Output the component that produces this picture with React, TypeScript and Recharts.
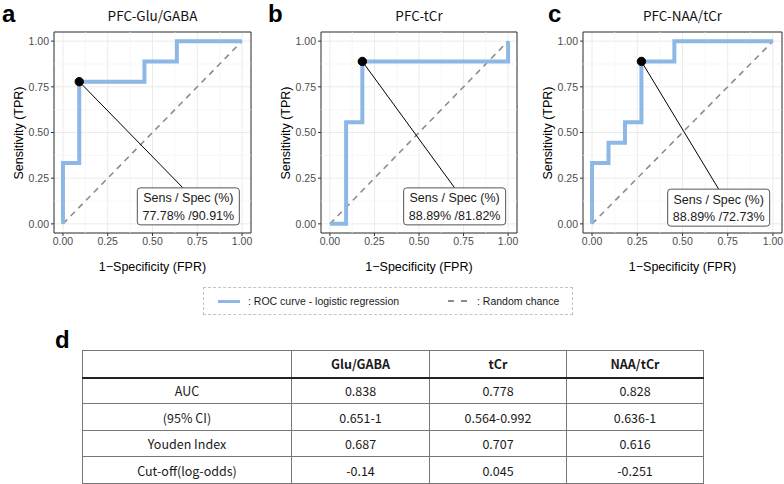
import React from "react";
import {
  LineChart,
  Line,
  XAxis,
  YAxis,
  CartesianGrid,
  ReferenceLine,
  ReferenceDot,
  ReferenceArea,
} from "recharts";

// ---------- data ----------
const gluFpr = [0, 0, 0.091, 0.091, 0.455, 0.455, 0.636, 0.636, 1];
const gluTpr = [0, 0.333, 0.333, 0.778, 0.778, 0.889, 0.889, 1, 1];
const tcrFpr = [0, 0.091, 0.091, 0.182, 0.182, 1, 1];
const tcrTpr = [0, 0, 0.556, 0.556, 0.889, 0.889, 1];
const naaFpr = [0, 0, 0.091, 0.091, 0.182, 0.182, 0.273, 0.273, 0.455, 0.455, 1];
const naaTpr = [0, 0.333, 0.333, 0.444, 0.444, 0.556, 0.556, 0.889, 0.889, 1, 1];

const panelTitles = ["PFC-Glu/GABA", "PFC-tCr", "PFC-NAA/tCr"];
const panelLetters = ["a", "b", "c"];
const optimalFpr = [0.091, 0.182, 0.273];
const optimalTpr = [0.778, 0.889, 0.889];
const sensSpecText = ["77.78% /90.91%", "88.89% /81.82%", "88.89% /72.73%"];
const labelCenterX = [0.7, 0.7, 0.7];
const labelTopY = [0.197, 0.197, 0.19];
const segmentEndX = [0.67, 0.7, 0.7];

const diagFpr = [0, 1];
const diagTpr = [0, 1];
const majorTicks = [0, 0.25, 0.5, 0.75, 1];
const minorTicks = [0.125, 0.375, 0.625, 0.875];

const tableColumns = ["", "Glu/GABA", "tCr", "NAA/tCr"];
const tableRowLabels = ["AUC", "(95% CI)", "Youden Index", "Cut-off(log-odds)"];
const gluStats = ["0.838", "0.651-1", "0.687", "-0.14"];
const tcrStats = ["0.778", "0.564-0.992", "0.707", "0.045"];
const naaStats = ["0.828", "0.636-1", "0.616", "-0.251"];

const legendItems = [": ROC curve - logistic regression", ": Random chance"];

// ---------- helpers ----------
const toPoints = (xs: number[], ys: number[]) => xs.map((x, i) => ({ x, y: ys[i] }));
const rocSets = [toPoints(gluFpr, gluTpr), toPoints(tcrFpr, tcrTpr), toPoints(naaFpr, naaTpr)];
const diagData = toPoints(diagFpr, diagTpr);

const SANS = "'Liberation Sans', Arial, Helvetica, sans-serif";
const KR = "'Noto Sans CJK KR', 'Noto Sans', sans-serif";

const PLOT_TOP = 32;
const PLOT_BOTTOM = 233;
const Y_AXIS_W = 54;
const CHART_H = 280;
const X_AXIS_H = 30;

const panelPlots = [
  { left: 54, right: 251 },
  { left: 321, right: 517 },
  { left: 583, right: 782 },
];

const makeLabelShape = (text: string) => (props: any) => {
  const { cx, cy } = props;
  const w = 102;
  const h = 37;
  return (
    <g>
      <rect x={cx - w / 2} y={cy} width={w} height={h} rx={3} ry={3} fill="#ffffff" stroke="#555555" strokeWidth={1} />
      <text x={cx} y={cy + 14.5} textAnchor="middle" fontSize={12.5} fontFamily={SANS} fill="#1a1a1a">
        Sens / Spec (%)
      </text>
      <text x={cx} y={cy + 32} textAnchor="middle" fontSize={12.5} fontFamily={SANS} fill="#1a1a1a">
        {text}
      </text>
    </g>
  );
};

const Panel = ({ idx }: { idx: number }) => {
  const plot = panelPlots[idx];
  const chartLeft = plot.left - Y_AXIS_W;
  const width = plot.right - chartLeft + 2;
  const tickStyle = { fontSize: 10.5, fill: "#4d4d4d", fontFamily: SANS };
  return (
    <>
      <div style={{ position: "absolute", left: chartLeft, top: 0 }}>
        <LineChart
          width={width}
          height={CHART_H}
          margin={{ top: PLOT_TOP, right: 2, left: 0, bottom: CHART_H - PLOT_BOTTOM - X_AXIS_H }}
        >
          <CartesianGrid stroke="#ebebeb" strokeWidth={1} />
          {minorTicks.map((v) => (
            <ReferenceLine key={"mx" + v} x={v} stroke="#f3f3f3" strokeWidth={0.7} />
          ))}
          {minorTicks.map((v) => (
            <ReferenceLine key={"my" + v} y={v} stroke="#f3f3f3" strokeWidth={0.7} />
          ))}
          <XAxis
            type="number"
            dataKey="x"
            domain={[-0.05, 1.05]}
            ticks={majorTicks}
            tickFormatter={(v: number) => v.toFixed(2)}
            allowDataOverflow
            height={X_AXIS_H}
            axisLine={false}
            tickLine={{ stroke: "#333333" }}
            tickSize={3}
            tickMargin={2}
            tick={tickStyle}
            interval={0}
          />
          <YAxis
            type="number"
            dataKey="y"
            domain={[-0.05, 1.05]}
            ticks={majorTicks}
            tickFormatter={(v: number) => v.toFixed(2)}
            allowDataOverflow
            width={Y_AXIS_W}
            axisLine={false}
            tickLine={{ stroke: "#333333" }}
            tickSize={3}
            tickMargin={2}
            tick={tickStyle}
            interval={0}
          />
          <Line
            data={diagData}
            dataKey="y"
            type="linear"
            stroke="#8c8c8c"
            strokeWidth={1.6}
            strokeDasharray="6 5"
            dot={false}
            activeDot={false}
            isAnimationActive={false}
          />
          <Line
            data={rocSets[idx]}
            dataKey="y"
            type="linear"
            stroke="#8db8e5"
            strokeWidth={4}
            strokeLinejoin="miter"
            strokeLinecap="butt"
            dot={false}
            activeDot={false}
            isAnimationActive={false}
          />
          <ReferenceLine
            segment={[
              { x: optimalFpr[idx], y: optimalTpr[idx] },
              { x: segmentEndX[idx], y: labelTopY[idx] },
            ]}
            stroke="#000000"
            strokeWidth={1}
            ifOverflow="visible"
          />
          <ReferenceDot
            x={labelCenterX[idx]}
            y={labelTopY[idx]}
            ifOverflow="visible"
            shape={makeLabelShape(sensSpecText[idx])}
          />
          <ReferenceDot x={optimalFpr[idx]} y={optimalTpr[idx]} r={4.2} fill="#000000" stroke="#000000" ifOverflow="visible" />
          <ReferenceArea
            x1={-0.05}
            x2={1.05}
            y1={-0.05}
            y2={1.05}
            fill="none"
            fillOpacity={0}
            stroke="#333333"
            strokeWidth={1}
            ifOverflow="visible"
          />
        </LineChart>
      </div>
      {/* panel title */}
      <div
        style={{
          position: "absolute",
          left: plot.left,
          width: plot.right - plot.left,
          top: 5,
          textAlign: "center",
          fontFamily: KR,
          fontSize: 13.5,
          color: "#111",
          lineHeight: "20px",
        }}
      >
        {panelTitles[idx]}
      </div>
      {/* x axis title */}
      <div
        style={{
          position: "absolute",
          left: plot.left,
          width: plot.right - plot.left,
          top: 259,
          textAlign: "center",
          fontFamily: SANS,
          fontSize: 12.5,
          color: "#000",
          lineHeight: "16px",
        }}
      >
        1−Specificity (FPR)
      </div>
      {/* y axis title */}
      <div
        style={{
          position: "absolute",
          left: plot.left - 35 - 100,
          width: 200,
          top: (PLOT_TOP + PLOT_BOTTOM) / 2 - 8,
          textAlign: "center",
          fontFamily: SANS,
          fontSize: 12.5,
          color: "#000",
          lineHeight: "16px",
          transform: "rotate(-90deg)",
          transformOrigin: "100px 8px",
        }}
      >
        Sensitivity (TPR)
      </div>
    </>
  );
};

const letterStyle = (left: number, top: number): React.CSSProperties => ({
  position: "absolute",
  left,
  top,
  fontFamily: SANS,
  fontWeight: "bold",
  fontSize: 24,
  lineHeight: "24px",
  color: "#000",
});

export default function App() {
  const colWidths = [209, 138, 137, 137];
  const rowHeights = [26, 27, 26, 27];
  const statCols = [gluStats, tcrStats, naaStats];
  return (
    <div
      style={{
        position: "absolute",
        left: 0,
        top: 0,
        width: 784,
        height: 484,
        overflow: "hidden",
        background: "#ffffff",
      }}
    >
      <Panel idx={0} />
      <Panel idx={1} />
      <Panel idx={2} />
      <div style={letterStyle(2, 2)}>{panelLetters[0]}</div>
      <div style={letterStyle(268, 2)}>{panelLetters[1]}</div>
      <div style={letterStyle(548, 2)}>{panelLetters[2]}</div>

      {/* legend */}
      <div
        style={{
          position: "absolute",
          left: 203,
          top: 287,
          width: 370,
          height: 28,
          boxSizing: "border-box",
          border: "1.5px dashed #c4c4c4",
          fontFamily: SANS,
          fontSize: 10.5,
          color: "#1a1a1a",
        }}
      >
        <div style={{ position: "absolute", left: 14, top: 12, width: 22, height: 3, background: "#8db8e5" }} />
        <div style={{ position: "absolute", left: 44, top: 6, lineHeight: "14px", whiteSpace: "nowrap" }}>{legendItems[0]}</div>
        <div style={{ position: "absolute", left: 244, top: 12, width: 19, height: 0, borderTop: "2px dashed #8c8c8c" }} />
        <div style={{ position: "absolute", left: 273, top: 6, lineHeight: "14px", whiteSpace: "nowrap" }}>{legendItems[1]}</div>
      </div>

      <div style={letterStyle(55, 328)}>d</div>

      {/* table */}
      <table
        style={{
          position: "absolute",
          left: 82,
          top: 350,
          borderCollapse: "collapse",
          fontFamily: KR,
          fontSize: 12.5,
          color: "#1a1a1a",
          tableLayout: "fixed",
        }}
      >
        <colgroup>
          {colWidths.map((w, i) => (
            <col key={i} style={{ width: w }} />
          ))}
        </colgroup>
        <tbody>
          <tr style={{ height: 27 }}>
            {tableColumns.map((c, i) => (
              <td
                key={i}
                style={{
                  border: "1px solid #777",
                  borderBottom: "2px solid #222",
                  textAlign: "center",
                  fontWeight: "bold",
                  padding: 0,
                }}
              >
                {c}
              </td>
            ))}
          </tr>
          {tableRowLabels.map((lab, r) => (
            <tr key={r} style={{ height: rowHeights[r] }}>
              <td style={{ border: "1px solid #777", textAlign: "center", padding: 0 }}>{lab}</td>
              {statCols.map((col, c) => (
                <td key={c} style={{ border: "1px solid #777", textAlign: "center", padding: 0 }}>
                  {col[r]}
                </td>
              ))}
            </tr>
          ))}
        </tbody>
      </table>
    </div>
  );
}
